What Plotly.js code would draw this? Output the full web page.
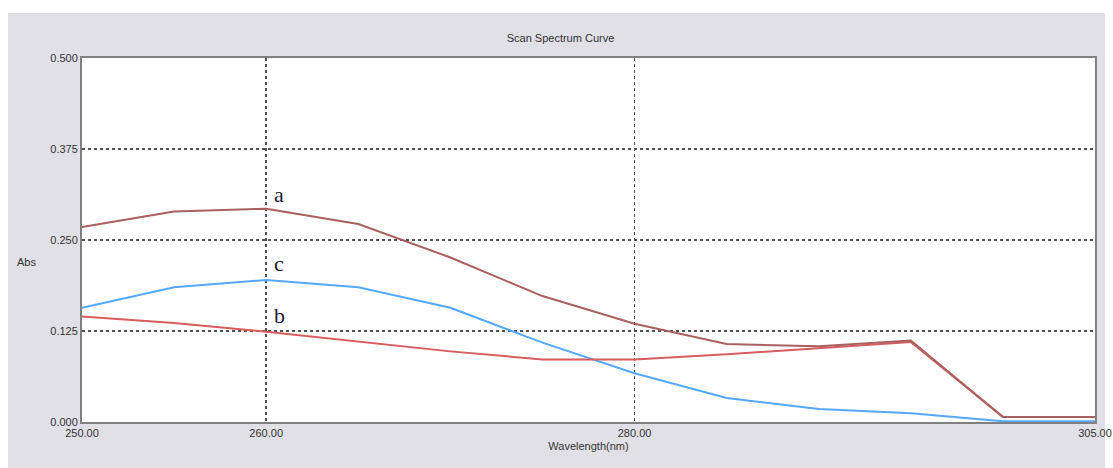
<!DOCTYPE html>
<html>
<head>
<meta charset="utf-8">
<script src="https://cdn.plot.ly/plotly-3.0.1.min.js"></script>
<style>
html,body{margin:0;padding:0;background:#ffffff;width:1113px;height:468px;overflow:hidden;}
#bg{position:absolute;left:8px;top:13px;width:1097px;height:455px;background:#e1e0e6;}
#chart{position:absolute;left:8px;top:13px;width:1105px;height:455px;}
</style>
</head>
<body>
<div id="bg"></div>
<div id="chart"></div>
<script>
var wavelength = [250, 255, 260, 265, 270, 275, 280, 285, 290, 295, 300, 305];
var absA = [0.268, 0.289, 0.293, 0.272, 0.226, 0.173, 0.135, 0.107, 0.104, 0.112, 0.007, 0.007];
var absB = [0.145, 0.136, 0.124, 0.110, 0.097, 0.086, 0.086, 0.093, 0.102, 0.110, 0.007, 0.007];
var absC = [0.157, 0.185, 0.195, 0.185, 0.157, 0.109, 0.067, 0.033, 0.018, 0.012, 0.001, 0.001];
var xTicks = [250, 260, 280, 305];
var yTicks = [0, 0.125, 0.25, 0.375, 0.5];
var curveLabels = ['a', 'c', 'b'];
var labelX = [260.7, 260.7, 260.7];
var labelY = [0.312, 0.218, 0.146];

var traces = [
  {x: wavelength, y: absC, type: 'scatter', mode: 'lines', line: {color: '#55a8ff', width: 2}, name: 'c'},
  {x: wavelength, y: absB, type: 'scatter', mode: 'lines', line: {color: '#d65c5f', width: 2}, name: 'b'},
  {x: wavelength, y: absA, type: 'scatter', mode: 'lines', line: {color: '#a86060', width: 2}, name: 'a'}
];

var anns = curveLabels.map(function(t, i){
  return {x: labelX[i], y: labelY[i], xref: 'x', yref: 'y', text: t, showarrow: false,
    font: {family: 'Liberation Serif, Times New Roman, serif', size: 22, color: '#1a1a33'}};
});
anns.push({x: -0.055, y: 0.44, xref: 'paper', yref: 'paper', text: 'Abs', showarrow: false,
  xanchor: 'center', font: {family: 'Liberation Sans Narrow, Liberation Sans, Arial, sans-serif', size: 11, color: '#333333'}});

var axisFont = {family: 'Liberation Sans Narrow, Liberation Sans, Arial, sans-serif', size: 11, color: '#333333'};

var layout = {
  width: 1105, height: 455,
  paper_bgcolor: 'rgba(0,0,0,0)', plot_bgcolor: '#ffffff',
  margin: {l: 74, r: 18, t: 45, b: 46},
  showlegend: false,
  title: {text: 'Scan Spectrum Curve', x: 0.5, xanchor: 'center', y: 0.945, yanchor: 'middle', font: axisFont},
  xaxis: {
    range: [250, 305], tickvals: xTicks, tickformat: '.2f', tickfont: axisFont, ticklabeloverflow: 'allow',
    showgrid: true, gridcolor: '#505050', griddash: 'dot', gridwidth: 1.5,
    showline: true, linecolor: '#808080', linewidth: 2, mirror: true, zeroline: false,
    ticks: '', title: {text: 'Wavelength(nm)', font: axisFont, standoff: 4}
  },
  yaxis: {
    range: [0, 0.5], tickvals: yTicks, tickformat: '.3f', tickfont: axisFont,
    showgrid: true, gridcolor: '#505050', griddash: 'dot', gridwidth: 1.5,
    showline: true, linecolor: '#808080', linewidth: 2, mirror: true, zeroline: false,
    ticks: ''
  },
  annotations: anns
};

Plotly.newPlot('chart', traces, layout, {displayModeBar: false, staticPlot: true});
</script>
</body>
</html>
